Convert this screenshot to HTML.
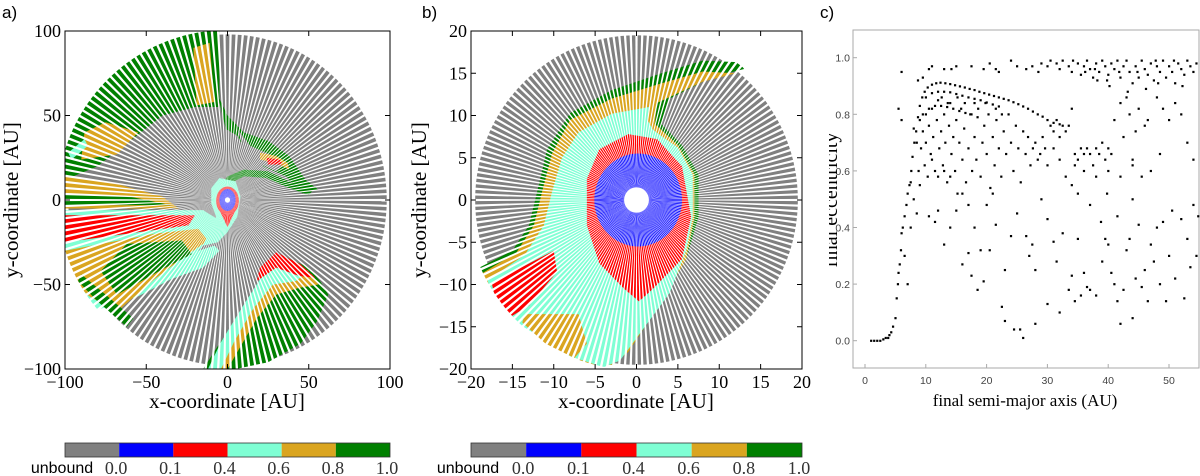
<!DOCTYPE html>
<html><head><meta charset="utf-8">
<style>
html,body{margin:0;padding:0;background:#fff;}
svg{display:block;}
.serif{font-family:"Liberation Serif",serif;}
.sans{font-family:"Liberation Sans",sans-serif;}
</style></head>
<body>
<svg id="fig" width="1200" height="476" viewBox="0 0 1200 476" xmlns="http://www.w3.org/2000/svg">
<defs>
<mask id="maskA" maskUnits="userSpaceOnUse" x="0" y="0" width="1200" height="476"><g id="raysA"></g></mask>
<mask id="maskB" maskUnits="userSpaceOnUse" x="0" y="0" width="1200" height="476"><g id="raysB"></g></mask>
<clipPath id="clipA"><rect x="65" y="31" width="325" height="338"/></clipPath>
<clipPath id="clipB"><rect x="471" y="31" width="331" height="338"/></clipPath>
<clipPath id="clipCLabel"><rect x="829" y="0" width="30" height="476"/></clipPath>
</defs>

<text class="sans" x="2" y="18" font-size="17">a)</text>
<text class="sans" x="422" y="18" font-size="17">b)</text>
<text class="sans" x="820" y="18" font-size="17">c)</text>

<g id="panelA">
  <g clip-path="url(#clipA)"><g mask="url(#maskA)" id="mapA"></g></g>
  <rect x="65" y="31" width="325" height="338" fill="none" stroke="#000" stroke-width="1"/>
  <g id="ticksA"></g>
  <text class="serif" x="227" y="408" font-size="21" text-anchor="middle">x-coordinate [AU]</text>
  <text class="serif" font-size="21" text-anchor="middle" transform="translate(18,200) rotate(-90)">y-coordinate [AU]</text>
</g>

<g id="panelB">
  <g clip-path="url(#clipB)"><g mask="url(#maskB)" id="mapB"></g></g>
  <rect x="471" y="31" width="331" height="338" fill="none" stroke="#000" stroke-width="1"/>
  <g id="ticksB"></g>
  <text class="serif" x="636" y="408" font-size="21" text-anchor="middle">x-coordinate [AU]</text>
  <text class="serif" font-size="21" text-anchor="middle" transform="translate(426,200) rotate(-90)">y-coordinate [AU]</text>
</g>

<g id="panelC">
  <rect x="853" y="30" width="346" height="338" fill="none" stroke="#aaa" stroke-width="1"/>
  <g id="ticksC"></g>
  <g id="dotsC"></g>
  <text class="serif" x="1025" y="406" font-size="17" text-anchor="middle">final semi-major axis (AU)</text>
  <g clip-path="url(#clipCLabel)">
  <text class="serif" font-size="20" text-anchor="middle" transform="translate(837,200) rotate(-90)">final eccentricity</text>
  </g>
</g>

<g id="cbA"></g>
<g id="cbB"></g>
</svg>

<script>
// ---------- Panel C data: [semi-major axis (AU), eccentricity] ----------
const xTicksC = [0,10,20,30,40,50];
const yTicksC = [0.0,0.2,0.4,0.6,0.8,1.0];
const curvePts = [[1,0],[1.5,0],[2,0],[2.5,0],[3,0.005],[3.4,0.01],[3.8,0.01],[4,0.02],[4.3,0.03],[4.6,0.05],[5,0.08],[5.2,0.15],[5.4,0.2],[5.5,0.24],[5.7,0.27],[5.9,0.32],[6,0.38],[6.2,0.4],[6.5,0.44],[6.8,0.48],[7,0.52],[7.3,0.55],[7.6,0.6],[7.8,0.65],[8.1,0.7],[8.4,0.74],[8.7,0.79],[9,0.83],[9.4,0.86],[9.8,0.88],[10.3,0.895],[11,0.905],[11.7,0.91],[12.4,0.912],[13.2,0.91],[14,0.907],[14.8,0.903],[15.6,0.899],[16.4,0.895],[17.2,0.89],[18,0.886],[18.8,0.88],[19.6,0.875],[20.4,0.87],[21.2,0.865],[22,0.86],[22.8,0.855],[23.6,0.85],[24.4,0.843],[25.2,0.836],[26,0.828],[26.8,0.82],[27.6,0.81],[28.4,0.8],[29.2,0.792],[30,0.78],[31,0.77],[32,0.765],
[10,0.86],[11,0.875],[12,0.88],[13,0.88],[14,0.878],[15,0.872],[16,0.866],[17,0.86],[18,0.855],[19,0.85],[20,0.842],[21,0.835],[22,0.828],[9.5,0.8],[10.5,0.82],[11.5,0.83],[12.5,0.83],[13.5,0.826],[14.5,0.82],[15.5,0.812],[16.5,0.805],[17.5,0.8],[18.5,0.79]];
const topBandPts = [[20.5,0.98],[21.5,0.96],[22,0.95],[24,0.99],[25,0.97],[26.5,0.96],[27.5,0.97],[28.5,0.95],[29,0.98],[30,0.97],[30.5,0.99],[31.5,0.98],[32,0.96],[32.5,0.99],[33.5,0.97],[34,0.95],[35,0.98],[35.5,0.94],[36,0.97],[36.5,0.99],[37,0.96],[37.5,0.93],[38,0.98],[38.5,0.95],[39,0.99],[39.5,0.97],[40,0.94],[40.5,0.98],[41,0.96],[41.5,0.99],[42,0.93],[42.5,0.97],[43,0.99],[43.5,0.95],[44,0.91],[44.5,0.97],[45,0.93],[45.5,0.99],[46,0.96],[46.5,0.94],[47,0.98],[47.5,0.92],[48,0.97],[48.5,0.95],[49,0.99],[49.5,0.93],[50,0.97],[50.5,0.95],[51,0.91],[51.5,0.98],[52,0.96],[52.5,0.94],[53,0.99],[53.5,0.97],[54,0.95],[54.5,0.98],[38.2,0.92],[40.2,0.9],[43.2,0.88],[46.2,0.89],[48.2,0.91],[52.2,0.9],[36.2,0.95],[34.2,0.99],[41.8,0.95],[44.8,0.95],[47.8,0.99],[50.8,0.99],[39.8,0.92],[37.8,0.96]];
const interiorPts = [[8,0.75],[8.5,0.7],[9,0.78],[9.2,0.68],[9.5,0.74],[10,0.8],[10,0.7],[10.5,0.76],[10.8,0.66],[11,0.82],[11.2,0.72],[11.5,0.6],[11.8,0.78],[12,0.85],[12.2,0.68],[12.5,0.74],[12.8,0.62],[13,0.8],[13.2,0.7],[13.5,0.56],[13.8,0.76],[14,0.84],[14.2,0.66],[14.5,0.72],[14.8,0.6],[15,0.78],[15.2,0.52],[15.5,0.7],[15.8,0.82],[16,0.64],[16.3,0.75],[16.6,0.56],[17,0.68],[17.3,0.8],[17.6,0.6],[18,0.72],[18.3,0.64],[18.6,0.82],[19,0.58],[19.3,0.7],[19.6,0.76],[20,0.66],[20.3,0.8],[20.6,0.54],[21,0.72],[21.3,0.62],[21.6,0.78],[22,0.68],[22.4,0.58],[22.8,0.74],[23.2,0.66],[23.6,0.8],[24,0.7],[24.4,0.6],[24.8,0.76],[25.2,0.68],[25.6,0.56],[26,0.74],[26.4,0.66],[26.8,0.72],[27.2,0.62],[27.6,0.68],[28,0.7],[28.4,0.64],[28.8,0.66],[29.2,0.72],[29.6,0.68],[30,0.62],[9.8,0.62],[7.5,0.56],[8,0.5],[9,0.55],[10.3,0.58],[12,0.58],[13,0.6],[14,0.58],[16,0.52],[17,0.48],[8.8,0.6],[11,0.64],[12.6,0.86],[13.6,0.84],[15.2,0.86],[16.4,0.84],[18,0.84],[19.8,0.84],[21.5,0.82],[22.5,0.8],[14.2,0.96],[10.5,0.96],[11,0.97],[9.5,0.93],[8.7,0.92],[6,0.95],[5.5,0.82],[6,0.78],[13,0.96],[15,0.97],[17.5,0.97],[19.5,0.96]];
const midRightPts = [[30.5,0.76],[31,0.74],[31.5,0.78],[32,0.72],[32.5,0.76],[33,0.74],[33.5,0.76],[34,0.82],[34.5,0.66],[35,0.64],[35.5,0.68],[36,0.66],[36.5,0.68],[37,0.66],[37.5,0.62],[38,0.68],[38.5,0.66],[39,0.7],[39.5,0.64],[40,0.68],[40.5,0.66],[41,0.78],[42,0.84],[42.5,0.72],[43,0.86],[43.5,0.8],[44,0.64],[44.5,0.74],[45,0.82],[45.5,0.58],[46,0.76],[46.5,0.78],[47,0.6],[48,0.86],[48.5,0.66],[49,0.82],[50,0.78],[51,0.84],[52,0.8],[53,0.7],[54,0.64],[33,0.58],[34,0.55],[36,0.6],[38,0.58],[40,0.6],[42,0.58],[44,0.62],[31,0.68],[32,0.64],[34.5,0.62]];
const sparsePts = [[6.5,0.3],[7,0.2],[7.5,0.4],[8.5,0.45],[10.5,0.44],[11.5,0.42],[12,0.46],[13,0.34],[14,0.4],[15,0.46],[16,0.27],[17,0.31],[17.5,0.23],[18,0.4],[18.5,0.18],[19,0.32],[19.5,0.21],[20,0.48],[20.5,0.32],[21,0.52],[21.5,0.41],[22.5,0.12],[23,0.25],[23,0.07],[24,0.37],[24.5,0.04],[25,0.45],[25.5,0.04],[26,0.01],[26.5,0.37],[27,0.3],[27.5,0.34],[28,0.25],[28,0.06],[29,0.5],[30,0.43],[30,0.13],[31,0.35],[31.5,0.28],[32,0.1],[32.5,0.38],[33.5,0.18],[34,0.23],[34.5,0.14],[35,0.36],[35.5,0.16],[36,0.24],[36.5,0.19],[37,0.18],[38,0.16],[39,0.28],[39.5,0.36],[40,0.34],[40.5,0.24],[41,0.2],[41.5,0.14],[42,0.06],[42.5,0.18],[43,0.32],[43.5,0.36],[44,0.08],[44.5,0.22],[45,0.41],[45.5,0.19],[46,0.25],[46.5,0.14],[47,0.34],[47.5,0.28],[48,0.4],[48.5,0.2],[49,0.42],[49.5,0.14],[50,0.3],[50.5,0.46],[51,0.22],[52,0.43],[52.5,0.15],[53,0.36],[53.5,0.26],[54,0.48],[54.5,0.3],[54.8,0.44],[38.8,0.42],[39.8,0.52],[41.5,0.44],[44,0.5],[37,0.48],[35,0.52]];

const cbLabels = ["0.0","0.1","0.4","0.6","0.8","1.0"];
const cbColors = ["#808080","#0000ff","#ff0000","#7fffd4","#daa520","#008000"];

const ticksA = [-100,-50,0,50,100];
const ticksB = [-20,-15,-10,-5,0,5,10,15,20];

const NS = "http://www.w3.org/2000/svg";
function mk(tag, attrs, parent){const e=document.createElementNS(NS,tag);for(const k in attrs)e.setAttribute(k,attrs[k]);if(parent)parent.appendChild(e);return e;}

const xC = a => 865 + a*6.08;
const yC = e => 340.7 - e*283;
const tC = document.getElementById('ticksC');
xTicksC.forEach(v=>{
  const t=mk('text',{x:xC(v),y:384,'font-size':10.5,'text-anchor':'middle',fill:'#444',class:'sans'},tC);
  t.textContent=v;
  
  
  mk('line',{x1:xC(v),x2:xC(v),y1:368,y2:364,stroke:'#aaa'},tC);
});
yTicksC.forEach(v=>{
  const t=mk('text',{x:850,y:yC(v)+4,'font-size':10.5,'text-anchor':'end',fill:'#444',class:'sans'},tC);
  t.textContent=v.toFixed(1);
  
  
  mk('line',{x1:853,x2:857,y1:yC(v),y2:yC(v),stroke:'#aaa'},tC);
});
const dC = document.getElementById('dotsC');
[curvePts,topBandPts,interiorPts,midRightPts,sparsePts].forEach(arr=>arr.forEach(p=>{
  const r=mk('rect',{x:xC(p[0])-1,y:yC(p[1])-1,width:2.2,height:2.2,fill:'#000'},dC);
  
  
}));

function rays(g,cx,cy,R,N,frac){
  for(let i=0;i<N;i++){
    const t=(i+0.5)/N*2*Math.PI, d=Math.PI/N*frac;
    const p=[[cx,cy],[cx+R*Math.cos(t-d),cy+R*Math.sin(t-d)],[cx+R*Math.cos(t+d),cy+R*Math.sin(t+d)]];
    mk('polygon',{points:p.map(q=>q.join(',')).join(' '),fill:'#fff'},g);
  }
}
function buildMap(gid,cx,cy,sx,sy,R,shapes){
  const g=document.getElementById(gid);
  const disk=mk('ellipse',{cx:cx,cy:cy,rx:R*sx,ry:R*sy,fill:'#808080'},g);
  
  
  shapes.forEach(s=>{
    let el;
    if(s.e){el=mk('ellipse',{cx:cx+s.e[0]*sx,cy:cy-s.e[1]*sy,rx:s.e[2]*sx,ry:s.e[3]*sy,fill:s.c},g);}
    else{el=mk('polygon',{points:s.p.map(q=>(cx+q[0]*sx)+','+(cy-q[1]*sy)).join(' '),fill:s.c},g);}
    
    
  });
}
const G='#008000',O='#daa520',C='#7fffd4',Rd='#ff0000',B='#0000ff',W='#ffffff';

rays(document.getElementById('raysA'),227.5,200,170,170,0.62);
buildMap('mapA',227.5,200,1.625,1.69,98,[
 {n:'green-region-top-left',c:G,p:[[-5,100],[-5,55],[-20,55],[-40,50],[-60,35],[-80,20],[-100,12],[-100,50],[-60,85],[-25,100]]},
 {n:'orange-patch-top',c:O,p:[[-21,90],[-11,93],[-8,58],[-19,56]]},
 {n:'orange-patch-left',c:O,p:[[-88,40],[-75,46],[-55,40],[-68,27],[-90,24]]},
 {n:'cyan-strip-left',c:C,p:[[-98,28],[-88,36],[-86,32],[-96,24]]},
 {n:'orange-left-stripes',c:O,p:[[-100,14],[-70,10],[-40,2],[-30,-5],[-100,-5]]},
 {n:'green-left-stripes',c:G,p:[[-100,4],[-60,2],[-35,-3],[-100,-3]]},
 {n:'cyan-lower-left-arm',c:C,p:[[-100,-6],[-40,-6],[-15,-6],[-5,-12],[-10,-22],[-18,-30],[-8,-27],[-5,-30],[-15,-40],[-35,-47],[-55,-57],[-80,-65],[-100,-40]]},
 {n:'red-lower-left-arm',c:Rd,p:[[-100,-9],[-20,-9],[-24,-15],[-100,-25]]},
 {n:'orange-lower-left-arm',c:O,p:[[-100,-30],[-45,-20],[-18,-17],[-12,-24],[-30,-36],[-45,-47],[-68,-66],[-85,-57],[-100,-44]]},
 {n:'green-lower-left-arm',c:G,p:[[-62,-26],[-28,-24],[-22,-32],[-40,-41],[-68,-56],[-78,-42]]},
 {n:'green-lower-left-outer',c:G,p:[[-92,-48],[-80,-60],[-62,-75],[-58,-70],[-75,-56],[-90,-44]]},
 {n:'green-upper-right-arm',c:G,p:[[-6,62],[0,50],[10,40],[25,35],[38,26],[48,12],[56,6],[46,4],[36,14],[22,20],[12,28],[6,38],[-1,42]]},
 {n:'gray-gap-upper-right',c:'#808080',p:[[6,42],[14,32],[26,27],[34,20],[30,17],[18,22],[10,30]]},
 {n:'orange-upper-right',c:O,p:[[20,28],[30,26],[37,22],[38,18],[30,22],[20,24]]},
 {n:'red-upper-right',c:Rd,p:[[24,25],[32,24],[34,21],[25,21]]},
 {n:'green-s-curve',c:G,p:[[-6,6],[0,14],[10,18],[25,17],[40,10],[52,5],[50,3],[38,7],[24,13],[10,14],[2,10],[-3,4]]},
 {n:'green-lower-right-arm',c:G,p:[[-15,-100],[-5,-85],[10,-65],[22,-46],[34,-33],[50,-40],[57,-48],[62,-56],[55,-72],[45,-85],[25,-96],[5,-100]]},
 {n:'orange-lower-right-arm',c:O,p:[[-8,-100],[0,-84],[14,-63],[26,-46],[36,-38],[52,-44],[56,-50],[44,-52],[30,-56],[18,-70],[6,-90],[0,-100]]},
 {n:'cyan-lower-right-arm',c:C,p:[[-12,-100],[-4,-84],[10,-62],[22,-44],[34,-34],[50,-42],[42,-48],[28,-50],[16,-64],[4,-84],[-4,-100]]},
 {n:'red-lower-right-arm',c:Rd,p:[[20,-40],[30,-31],[45,-38],[54,-46],[44,-45],[30,-40],[18,-48]]},
 {n:'cyan-center-s',c:C,p:[[-10,7],[-5,13],[5,11],[8,2],[6,-10],[0,-19],[-6,-25],[-15,-27],[-11,-18],[-7,-10],[-10,-2]]},
 {n:'red-center-teardrop',c:Rd,e:[0,-0.5,7,8.5]},
 {n:'red-center-tail',c:Rd,p:[[-6,-4],[6,-4],[0,-16]]},
 {n:'blue-center',c:B,e:[0,0,5,6.5]},
 {n:'white-center-hole',c:W,e:[0,0,1.6,1.6]}
]);

rays(document.getElementById('raysB'),636.5,200,170,180,0.6);
buildMap('mapB',636.5,200,8.275,8.45,19.5,[
 {n:'green-band',c:G,p:[[12.5,16.3],[8,16.5],[3,15],[-3,13],[-8,10.3],[-10.8,6],[-12,1],[-13,-3],[-15,-6],[-19,-8],[-18.5,-10],[-14,-14],[-10,-17],[-6,-19.5],[-3,-19.5],[-1,-18],[3,-12],[6,-7],[7.5,-2],[7.5,3],[5.5,6.5],[3,9],[4,12],[9,14.5],[13,15.5]]},
 {n:'orange-band',c:O,p:[[12,15],[8,15.2],[3,13.8],[-3,12],[-8,9.5],[-10.2,5.5],[-11.4,1],[-12.4,-3],[-14.5,-6.2],[-18.7,-8.7],[-18,-10.5],[-14,-14],[-10,-17],[-6,-19.5],[-3,-19.5],[-1,-18],[3,-12],[6,-7],[7,-2],[7,3],[5,6.5],[2.2,9],[2.5,11.5],[8,14]]},
 {n:'cyan-region',c:C,p:[[1.5,11],[-3,10.2],[-7,8],[-9,5],[-10.2,1],[-11.2,-3],[-13.5,-6.5],[-18,-9.5],[-17,-13],[-12,-16],[-8,-18.5],[-4,-19.8],[-2,-19],[1,-15],[4,-11],[6,-6],[6.8,-2],[6.8,3],[5,6.2],[2,8.3],[1.3,9.5]]},
 {n:'red-lower-left-stripes',c:Rd,p:[[-17.5,-9.8],[-10,-6],[-9.6,-8.5],[-13,-12.5],[-15.5,-14],[-17,-12]]},
 {n:'orange-lower-left',c:O,p:[[-13.5,-13.5],[-7,-13.5],[-6,-17],[-7.5,-18.7],[-11,-17],[-13.8,-14.5]]},
 {n:'red-region',c:Rd,p:[[-1,7.8],[2.5,7.2],[5.5,4],[6.6,-2],[5.5,-7],[2,-10.5],[0.3,-12],[-1.5,-10.5],[-4.5,-7.5],[-6,-3],[-6,2.5],[-4.5,6]]},
 {n:'blue-region',c:B,e:[0.2,0,5.3,5.5]},
 {n:'white-center-hole',c:W,e:[0,0,1.5,1.5]}
]);

function mapTicks(gid,ticks,x0,x1,y0,y1,pre){
  const g=document.getElementById(gid);
  const n=ticks.length;
  ticks.forEach((v,i)=>{
    const x=x0+(x1-x0)*i/(n-1), y=y1-(y1-y0)*i/(n-1);
    mk('line',{x1:x,x2:x,y1:y1,y2:y1-5,stroke:'#000'},g);
    mk('line',{x1:x,x2:x,y1:y0,y2:y0+5,stroke:'#000'},g);
    mk('line',{x1:x0,x2:x0+5,y1:y,y2:y,stroke:'#000'},g);
    mk('line',{x1:x1,x2:x1-5,y1:y,y2:y,stroke:'#000'},g);
    const s=v<0?'\u2212'+(-v):String(v);
    const tx=mk('text',{x:x,y:y1+19,'font-size':18,'text-anchor':'middle',class:'serif'},g);
    tx.textContent=s;
    
    
    const ty=mk('text',{x:x0-4,y:y+6,'font-size':18,'text-anchor':'end',class:'serif'},g);
    ty.textContent=s;
    
    
  });
}
mapTicks('ticksA',ticksA,65,390,31,369,'panel-a');
mapTicks('ticksB',ticksB,471,802,31,369,'panel-b');

function colorbar(gid,x0,x1){
  const g=document.getElementById(gid);
  const w=(x1-x0)/cbColors.length;
  cbColors.forEach((c,i)=>{
    const r=mk('rect',{x:x0+i*w,y:443,width:w,height:14,fill:c},g);
    
    
  });
  mk('rect',{x:x0,y:443,width:x1-x0,height:14,fill:'none',stroke:'#333','stroke-width':0.8},g);
  const u=mk('text',{x:x0-3,y:473,'font-size':16,'text-anchor':'middle',class:'sans'},g);
  u.textContent='unbound';
  
  
  cbLabels.forEach((l,i)=>{
    const t=mk('text',{x:x0+(i+1)*w-3,y:474,'font-size':18,'text-anchor':'middle',class:'serif',fill:'#333'},g);
    t.textContent=l;
    
    
  });
}
colorbar('cbA',65,390);
colorbar('cbB',471,802);
</script>
</body></html>
